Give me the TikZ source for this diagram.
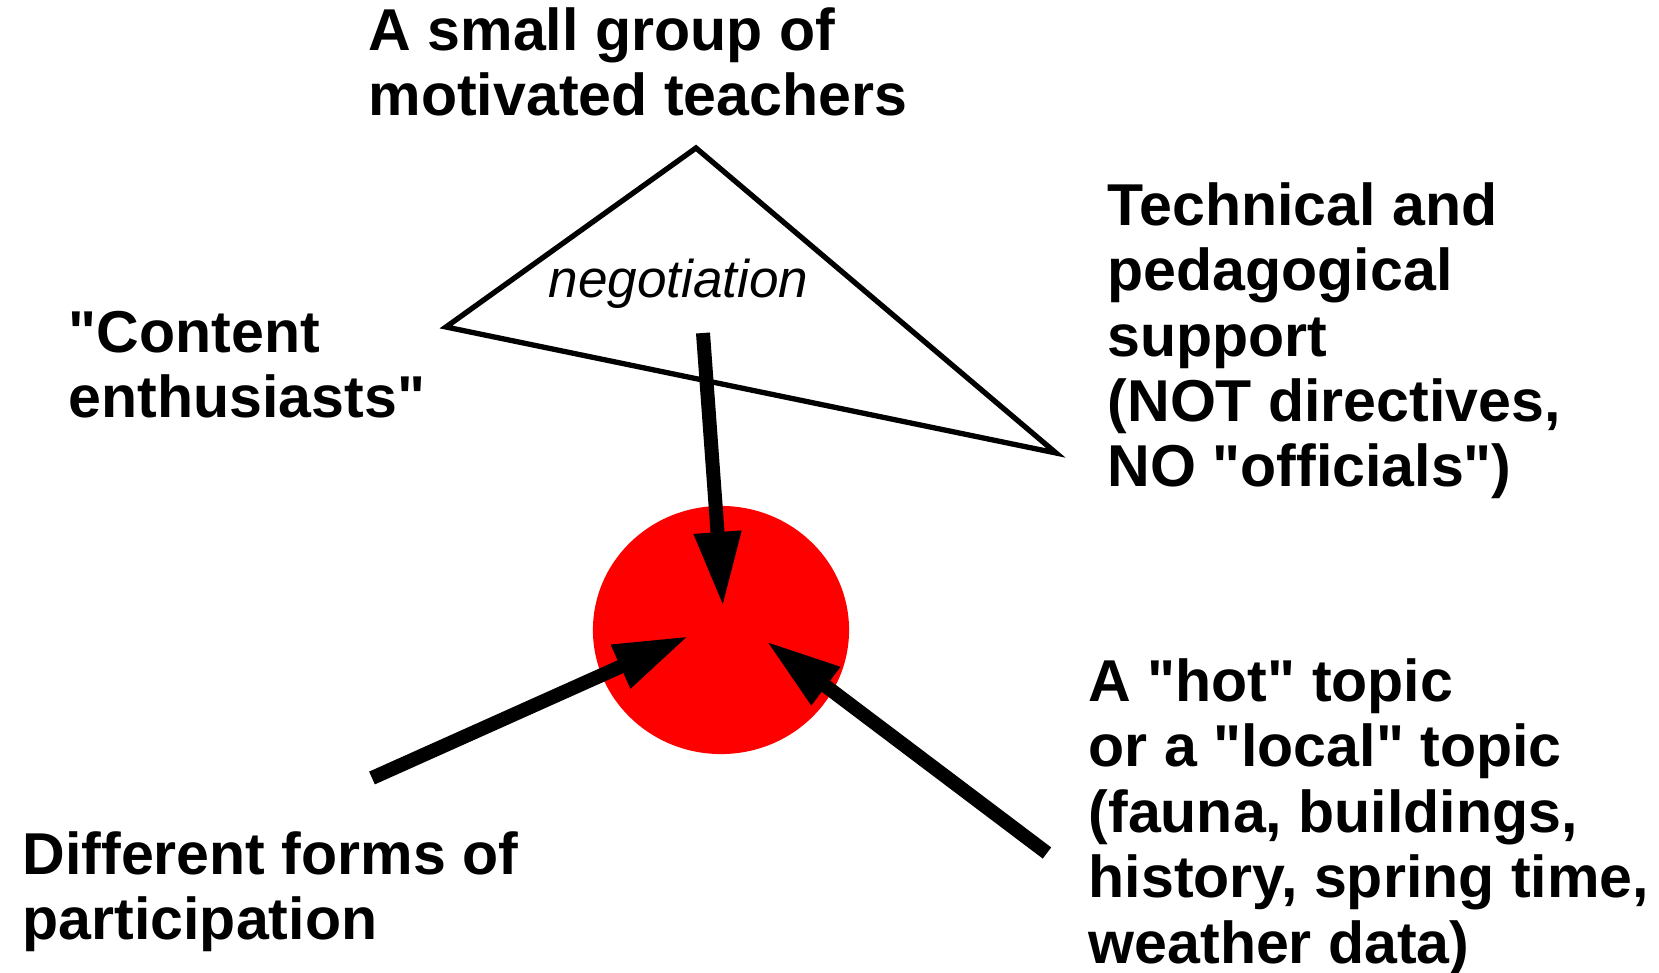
\documentclass[tikz,border=0pt]{standalone}
\usepackage{fontspec}
\setmainfont{Liberation Sans}[Ligatures=TeXOff]
\usepackage{xcolor}
\usetikzlibrary{arrows.meta, shapes.geometric}

\begin{document}
\begin{tikzpicture}[x=0.01cm, y=-0.01cm,
    every node/.style={inner sep=0pt, anchor=base west, align=left,
      font=\fontsize{16.8}{18.6}\selectfont\bfseries},
    bigarrow/.style={line width=0.14cm, -{Triangle[length=0.75cm, width=0.44cm]}}]
    \useasboundingbox (0,0) rectangle (1659,973);

    % Negotiation triangle
    \coordinate (apex) at (696,148);
    \coordinate (lcorner) at (446,327);
    \coordinate (rcorner) at (1056,453);
    \draw[line width=0.053cm, miter limit=20] (apex) -- (lcorner) -- (rcorner) -- cycle;
    \node[font=\fontsize{15.1}{17}\selectfont\itshape] (negotiation) at (548,298) {negotiation};

    % Core
    \node[fill=red, draw=none, ellipse, minimum width=2.56cm, minimum height=2.48cm, anchor=center] (core) at (721,630) {};

    % Labels (anchored at the baseline of the last line)
    \node (teachers) at (368,116) {A small group of\\motivated teachers};
    \node (enthusiasts) at (68,418) {"Content\\enthusiasts"};
    \node (support) at (1107,487) {Technical and\\pedagogical\\support\\(NOT directives,\\NO "officials")};
    \node (topic) at (1088,963) {A "hot" topic\\or a "local" topic\\(fauna, buildings,\\history, spring time,\\weather data)};
    \node (participation) at (22,940) {Different forms of\\participation};

    % Arrows
    \coordinate (ttail) at (703,333);
    \coordinate (ttip) at (723,607);
    \coordinate (ltail) at (372,778);
    \coordinate (ltip) at (689,636);
    \coordinate (rtail) at (1047,853);
    \coordinate (rtip) at (766,641);
    \draw[bigarrow] (ttail) -- (ttip);
    \draw[bigarrow] (ltail) -- (ltip);
    \draw[bigarrow] (rtail) -- (rtip);
\end{tikzpicture}
\end{document}
